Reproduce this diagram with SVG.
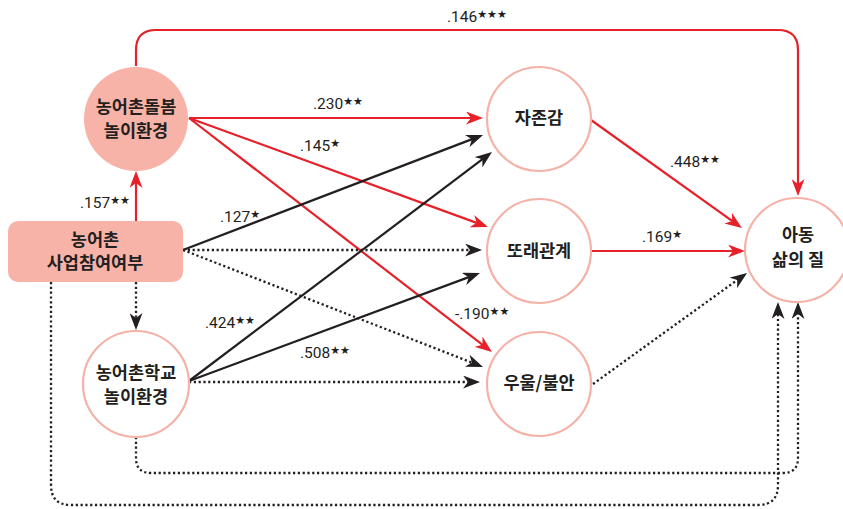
<svg xmlns="http://www.w3.org/2000/svg" width="843" height="509" viewBox="0 0 843 509">
<style>
.bg{fill:#ffffff}
.node-fill{fill:#f7b3a8}
.node-ring{fill:#ffffff;stroke:#f5b2a7;stroke-width:2.2}
.nt{font-family:"Noto Sans CJK KR","Noto Sans",sans-serif;font-weight:bold;font-size:17.5px;fill:#231f20;text-anchor:middle}
.lbl{font-family:Roboto,"Liberation Sans",sans-serif;font-weight:normal;font-size:15.5px;fill:#231f20}
.star{font-family:"DejaVu Sans",sans-serif;font-size:11px}
.red{fill:none;stroke:#e62129;stroke-width:2.2}
.blk{fill:none;stroke:#231f20;stroke-width:2.2}
.dot{fill:none;stroke:#231f20;stroke-width:2.3;stroke-dasharray:2.2 2.6}
</style>
<defs>
<marker id="ar" viewBox="0 0 17 13" refX="13" refY="6.5" markerWidth="17" markerHeight="13" markerUnits="userSpaceOnUse" orient="auto">
<path d="M0,0 L17,6.5 L0,13 L5,6.5 Z" fill="#e62129"/>
</marker>
<marker id="ab" viewBox="0 0 17 13" refX="13" refY="6.5" markerWidth="17" markerHeight="13" markerUnits="userSpaceOnUse" orient="auto">
<path d="M0,0 L17,6.5 L0,13 L5,6.5 Z" fill="#231f20"/>
</marker>
</defs>
<rect class="bg" x="0" y="0" width="843" height="509"/>
<g id="connectors">
<path class="red" d="M136,66 V50 Q136,30 156,30 H778 Q798,30 798,50 V192" marker-end="url(#ar)"/>
<path class="red" d="M189,118 L479,118" marker-end="url(#ar)"/>
<path class="red" d="M189,118 L484.2,225.6" marker-end="url(#ar)"/>
<path class="red" d="M189,118 L488.8,349.6" marker-end="url(#ar)"/>
<path class="red" d="M136,221 L136,175" marker-end="url(#ar)"/>
<path class="red" d="M591,120 L738.7,225.7" marker-end="url(#ar)"/>
<path class="red" d="M591,251 L741,251" marker-end="url(#ar)"/>
<path class="blk" d="M183,250 L479.3,136.4" marker-end="url(#ab)"/>
<path class="blk" d="M189,381 L488.8,154.4" marker-end="url(#ab)"/>
<path class="blk" d="M189,381 L476.2,274.4" marker-end="url(#ab)"/>
<path class="dot" d="M183,250 L478,250" marker-end="url(#ab)"/>
<path class="dot" d="M183,250 L479.3,365.5" marker-end="url(#ab)"/>
<path class="dot" d="M189,382 L476,382" marker-end="url(#ab)"/>
<path class="dot" d="M593,384 L743.8,275.3" marker-end="url(#ab)"/>
<path class="dot" d="M136,282 L136,326" marker-end="url(#ab)"/>
<path class="dot" d="M51,282 V485 Q51,505 71,505 H758 Q778,505 778,485 V306" marker-end="url(#ab)"/>
<path class="dot" d="M136,437 V458 Q136,473 151,473 H783 Q798,473 798,458 V306" marker-end="url(#ab)"/>
</g>
<g id="labels">
<text class="lbl" x="447" y="22">.146<tspan class="star" dy="-4">★★★</tspan></text>
<text class="lbl" x="313" y="109">.230<tspan class="star" dy="-4">★★</tspan></text>
<text class="lbl" x="300" y="151">.145<tspan class="star" dy="-4">★</tspan></text>
<text class="lbl" x="80" y="208">.157<tspan class="star" dy="-4">★★</tspan></text>
<text class="lbl" x="220" y="222">.127<tspan class="star" dy="-4">★</tspan></text>
<text class="lbl" x="205" y="328">.424<tspan class="star" dy="-4">★★</tspan></text>
<text class="lbl" x="300" y="358">.508<tspan class="star" dy="-4">★★</tspan></text>
<text class="lbl" x="455" y="319">-.190<tspan class="star" dy="-4">★★</tspan></text>
<text class="lbl" x="670" y="167">.448<tspan class="star" dy="-4">★★</tspan></text>
<text class="lbl" x="642" y="242">.169<tspan class="star" dy="-4">★</tspan></text>
</g>
<g id="n-dolbom">
<circle class="node-fill" cx="136" cy="119" r="52"/>
<text class="nt" x="136" y="113">농어촌돌봄</text>
<text class="nt" x="136" y="137">놀이환경</text>
</g>
<g id="n-saup">
<rect class="node-fill" x="8" y="221" width="175" height="61" rx="10"/>
<text class="nt" x="95" y="246">농어촌</text>
<text class="nt" x="95" y="269">사업참여여부</text>
</g>
<g id="n-hakgyo">
<circle class="node-ring" cx="136" cy="384" r="53"/>
<text class="nt" x="136" y="379">농어촌학교</text>
<text class="nt" x="136" y="403">놀이환경</text>
</g>
<g id="n-jajon">
<circle class="node-ring" cx="539" cy="119" r="52"/>
<text class="nt" x="539" y="124">자존감</text>
</g>
<g id="n-ddorae">
<circle class="node-ring" cx="539" cy="251" r="52"/>
<text class="nt" x="539" y="257">또래관계</text>
</g>
<g id="n-uul">
<circle class="node-ring" cx="539" cy="384" r="52"/>
<text class="nt" x="539" y="389">우울/불안</text>
</g>
<g id="n-adong">
<circle class="node-ring" cx="797" cy="250" r="52"/>
<text class="nt" x="798" y="241">아동</text>
<text class="nt" x="798" y="266">삶의 질</text>
</g>
</svg>
